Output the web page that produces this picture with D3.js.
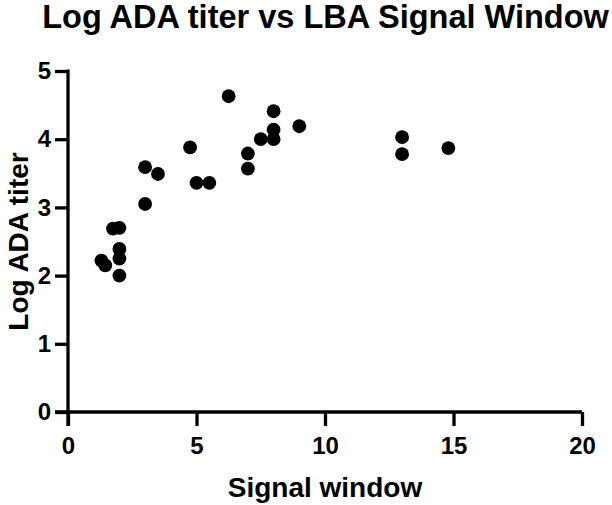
<!DOCTYPE html>
<html>
<head>
<meta charset="utf-8">
<script src="https://cdn.jsdelivr.net/npm/d3@7"></script>
<style>
  html, body { margin: 0; padding: 0; background: #fff; }
  svg { display: block; }
  text { font-family: "Liberation Sans", Arial, Helvetica, sans-serif; font-weight: bold; fill: #000; }
</style>
</head>
<body>
<svg id="chart" width="612" height="505"></svg>
<script>
// Data
const signalWindow = [1.3, 1.45, 1.75, 2, 2, 2, 2, 3, 3, 3.5, 4.75, 5, 5.5, 6.25, 7, 7, 7.5, 8, 8, 8, 9, 13, 13, 14.8];
const logTiter     = [2.22, 2.15, 2.69, 2.70, 2.39, 2.25, 2.00, 3.59, 3.05, 3.49, 3.88, 3.36, 3.36, 4.63, 3.79, 3.57, 4.00, 4.41, 4.14, 4.00, 4.19, 4.03, 3.78, 3.87];
const xTicks = [0, 5, 10, 15, 20];
const yTicks = [0, 1, 2, 3, 4, 5];
const titleText = "Log ADA titer vs LBA Signal Window";
const xLabel = "Signal window";
const yLabel = "Log ADA titer";

const svg = d3.select("#chart");
const mLeft = 68, mRight = 582, mTop = 71, mBottom = 412;

const x = d3.scaleLinear().domain([0, 20]).range([mLeft, mRight]);
const y = d3.scaleLinear().domain([0, 5]).range([mBottom, mTop]);
const fmt = d3.format("d");

function styleAxis(g) {
  g.select(".domain").style("stroke", "#000").style("stroke-width", "3.3px").style("fill", "none");
  g.selectAll(".tick line").style("stroke", "#000").style("stroke-width", "3.3px");
  g.selectAll(".tick text").style("font-size", "24px").style("fill", "#000")
    .style("font-family", '"Liberation Sans", Arial, sans-serif').style("font-weight", "bold");
}

// X axis
const xAxis = d3.axisBottom(x).tickValues(xTicks).tickFormat(fmt).tickSize(14).tickPadding(11).tickSizeOuter(0);
const gx = svg.append("g").attr("transform", `translate(0,${mBottom})`).call(xAxis);
gx.select(".domain").attr("d", `M${mLeft - 13},0H${mRight}`);
styleAxis(gx);

// Y axis
const yAxis = d3.axisLeft(y).tickValues(yTicks).tickFormat(fmt).tickSize(13).tickPadding(4).tickSizeOuter(0);
const gy = svg.append("g").attr("transform", `translate(${mLeft},0)`).call(yAxis);
gy.select(".domain").attr("d", `M0,${mTop - 1.6}V${mBottom + 14}`);
styleAxis(gy);

// Points
const pts = signalWindow.map((d, i) => ({ x: d, y: logTiter[i] }));
svg.append("g").selectAll("circle").data(pts).join("circle")
  .attr("cx", d => x(d.x)).attr("cy", d => y(d.y)).attr("r", 6.9).style("fill", "#000");

// Title
svg.append("text").attr("x", (mLeft + mRight) / 2 + 0.5).attr("y", 28)
  .attr("text-anchor", "middle").style("font-size", "32.5px").text(titleText);

// X label
svg.append("text").attr("x", (mLeft + mRight) / 2).attr("y", 497)
  .attr("text-anchor", "middle").style("font-size", "28px").text(xLabel);

// Y label
svg.append("text").attr("transform", `translate(28,${(mTop + mBottom) / 2}) rotate(-90)`)
  .attr("text-anchor", "middle").style("font-size", "28px").text(yLabel);
</script>
</body>
</html>
